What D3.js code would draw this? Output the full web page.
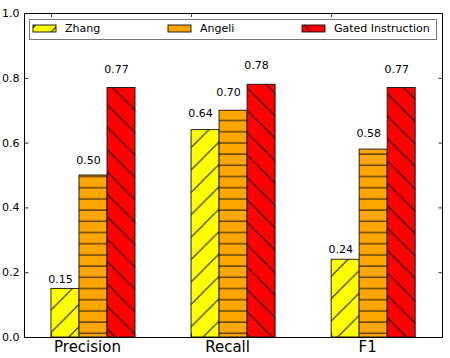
<!DOCTYPE html>
<html>
<head>
<meta charset="utf-8">
<script src="https://cdn.jsdelivr.net/npm/d3@7"></script>
<style>
  body { margin: 0; background: #fff; }
  svg { display: block; font-family: "DejaVu Sans", sans-serif; }
</style>
</head>
<body>
<div id="container"></div>
<script>
const categories = ["Precision", "Recall", "F1"];
const seriesNames = ["Zhang", "Angeli", "Gated Instruction"];
const zhang = [0.15, 0.64, 0.24];
const angeli = [0.50, 0.70, 0.58];
const gated = [0.77, 0.78, 0.77];
const yTicks = [0.0, 0.2, 0.4, 0.6, 0.8, 1.0];

const seriesValues = [zhang, angeli, gated];
const colors = ["#ffff00", "#ffa500", "#ff0000"];
const hatches = ["ne", "h", "nw"];

const width = 450, height = 358;
const plot = {left: 24.5, right: 442.5, top: 13, bottom: 337};
const barW = 0.2;

const svg = d3.select("#container")
  .append("svg")
  .attr("width", width)
  .attr("height", height);

svg.append("rect").attr("width", width).attr("height", height).attr("fill", "#fff");

// hatch patterns, anchored to page coords like matplotlib
const defs = svg.append("defs");
const P = 22.4, PH = 11.2;
const hatchColor = "#111";

const pNE = defs.append("pattern").attr("id", "hatch-ne")
  .attr("patternUnits", "userSpaceOnUse").attr("width", P).attr("height", P);
[-1, 0, 1, 2].forEach(k => {
  const c = 2.6 + k * P;
  pNE.append("line")
    .attr("x1", -2).attr("y1", c + 2).attr("x2", P + 2).attr("y2", c - P - 2)
    .attr("stroke", hatchColor).attr("stroke-width", 1);
});

const pNW = defs.append("pattern").attr("id", "hatch-nw")
  .attr("patternUnits", "userSpaceOnUse").attr("width", P).attr("height", P);
[-1, 0, 1].forEach(k => {
  const d = 2.4 + k * P;
  pNW.append("line")
    .attr("x1", -2).attr("y1", -2 - d).attr("x2", P + 2).attr("y2", P + 2 - d)
    .attr("stroke", hatchColor).attr("stroke-width", 1);
});

const pH = defs.append("pattern").attr("id", "hatch-h")
  .attr("patternUnits", "userSpaceOnUse").attr("width", PH).attr("height", PH);
pH.append("line")
  .attr("x1", -1).attr("x2", PH + 1).attr("y1", 8.5).attr("y2", 8.5)
  .attr("stroke", hatchColor).attr("stroke-width", 1);

const x = d3.scaleLinear().domain([-0.189, 2.795]).range([plot.left, plot.right]);
const y = d3.scaleLinear().domain([0, 1]).range([plot.bottom, plot.top]);

// bars
const g = svg.append("g");
seriesValues.forEach((vals, j) => {
  ["fill", "hatch"].forEach(layer => {
    g.selectAll(null)
      .data(vals)
      .join("rect")
      .attr("x", (d, i) => x(i + j * barW))
      .attr("width", x(barW) - x(0))
      .attr("y", d => y(d))
      .attr("height", d => y(0) - y(d))
      .attr("fill", layer === "fill" ? colors[j] : `url(#hatch-${hatches[j]})`)
      .attr("stroke", layer === "fill" ? "none" : "#111")
      .attr("stroke-width", 0.9);
  });

  g.selectAll(null)
    .data(vals)
    .join("text")
    .attr("x", (d, i) => x(i + j * barW + barW / 2) - 4.5)
    .attr("y", d => y(d * 1.05) - 2.5)
    .attr("text-anchor", "middle")
    .style("font-size", "11px")
    .attr("fill", "#000")
    .text(d => d.toFixed(2));
});

// axes
const fmt = d3.format(".1f");
const axL = svg.append("g").attr("transform", `translate(${plot.left},0)`)
  .call(d3.axisLeft(y).tickValues(yTicks).tickFormat(fmt).tickSize(-4).tickPadding(5));
const axR = svg.append("g").attr("transform", `translate(${plot.right},0)`)
  .call(d3.axisRight(y).tickValues(yTicks).tickFormat("").tickSize(-4));
const axT = svg.append("g").attr("transform", `translate(0,${plot.top})`)
  .call(d3.axisTop(x).tickValues([0, 1, 2]).tickFormat("").tickSize(-4));
const axB = svg.append("g").attr("transform", `translate(0,${plot.bottom})`)
  .call(d3.axisBottom(x).tickValues([0, 1, 2]).tickFormat(i => categories[i]).tickSize(-4).tickPadding(4.5));

[axL, axR, axT, axB].forEach(a => {
  a.select(".domain").remove();
  a.selectAll("line").attr("stroke", "#000").attr("stroke-width", 0.8);
  a.selectAll("text").attr("fill", "#000").style("font-family", "DejaVu Sans");
});
axL.selectAll("text").style("font-size", "11px");
axB.selectAll("text").style("font-size", "15px").attr("dx", 36);

svg.append("rect")
  .attr("x", plot.left).attr("y", plot.top + 0.5)
  .attr("width", plot.right - plot.left).attr("height", plot.bottom - plot.top)
  .attr("fill", "none").attr("stroke", "#000").attr("stroke-width", 1);

// legend
const legend = svg.append("g");
legend.append("rect")
  .attr("x", 29.5).attr("y", 19.5).attr("width", 407).attr("height", 20)
  .attr("fill", "#fff").attr("stroke", "#777").attr("stroke-width", 1);

const legX = [33, 168, 302];
seriesNames.forEach((name, j) => {
  const item = legend.append("g").attr("transform", `translate(${legX[j]},25)`);
  item.append("rect").attr("width", 23).attr("height", 7).attr("fill", colors[j]);
  item.append("rect").attr("width", 23).attr("height", 7)
    .attr("fill", `url(#hatch-${hatches[j]})`)
    .attr("stroke", "#111").attr("stroke-width", 0.9);
  item.append("text")
    .attr("x", 32).attr("y", 3.5).attr("dy", "0.35em")
    .style("font-size", "11px")
    .attr("fill", "#000")
    .text(name);
});
</script>
</body>
</html>
